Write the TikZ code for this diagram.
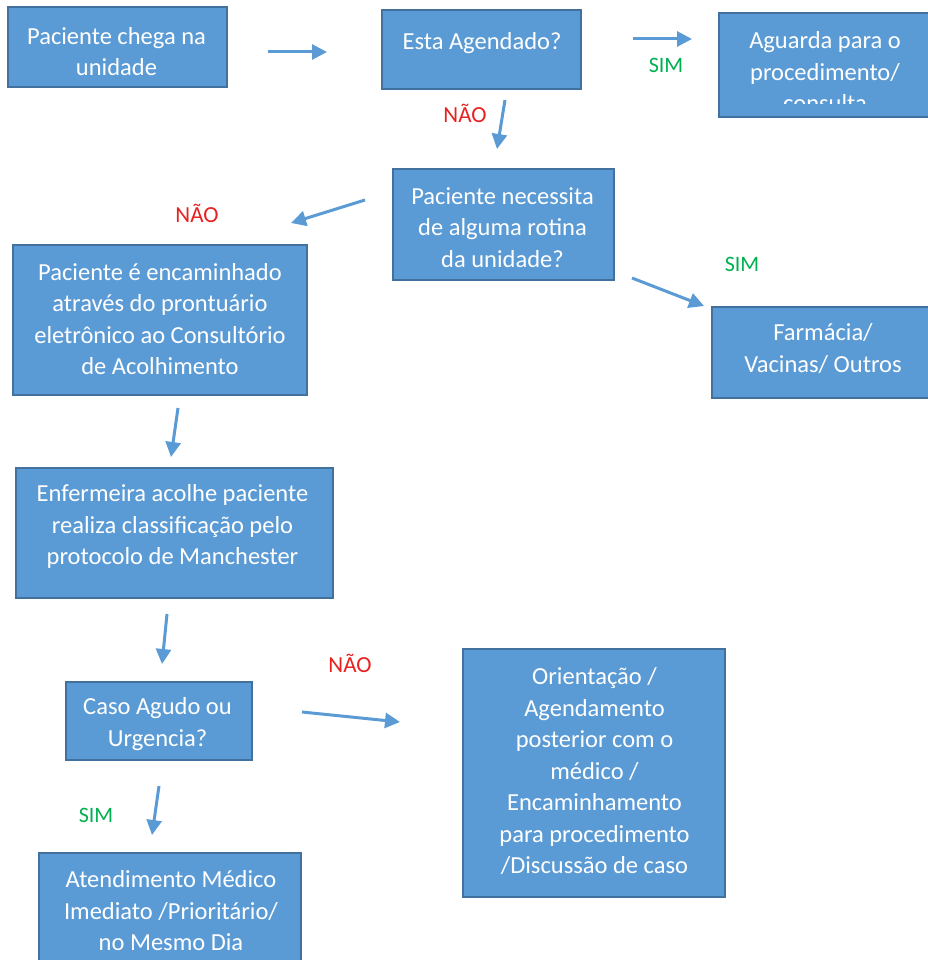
\documentclass[tikz,border=0pt]{standalone}
\usepackage{fontspec}
\setmainfont{Carlito}
\usetikzlibrary{arrows.meta}
\definecolor{boxblue}{RGB}{91,155,213}
\definecolor{boxedge}{RGB}{65,113,156}
\definecolor{naored}{RGB}{232,32,32}
\definecolor{simgreen}{RGB}{0,176,80}
\tikzset{
  etapa/.style={draw=boxedge, line width=1.2pt, fill=boxblue, inner sep=0pt},
  texto/.style={text=white, align=center, inner sep=0pt, font=\fontsize{24.5}{31.5}\selectfont},
  seta/.style={draw=boxblue, line width=3pt, -{Triangle[length=15pt,width=15pt]}},
  nao/.style={text=naored, font=\fontsize{23}{26}\selectfont},
  sim/.style={text=simgreen, font=\fontsize{22}{26}\selectfont},
}
\begin{document}
\begin{tikzpicture}[x=1pt,y=-1pt]
    \useasboundingbox (0,0) rectangle (927,960);
    % Etapas
    \node[etapa, minimum width=219, minimum height=80] (chega) at (117.5,47) {};
    \node[texto] (chegatxt) at (116.5,51.5) {Paciente chega na\\unidade};
    \node[etapa, minimum width=199, minimum height=79] (agendado) at (481.5,49.5) {};
    \node[texto] (agendadotxt) at (482,43) {Esta Agendado?};
    \node[etapa, minimum width=213, minimum height=104] (aguarda) at (825.5,65) {};
    \begin{scope}
      \clip (719,13) rectangle (932,104);
      \node[texto] (aguardatxt) at (825,72) {Aguarda para o\\procedimento/\\consulta};
    \end{scope}
    \node[etapa, minimum width=221, minimum height=111] (rotina) at (503.5,224.5) {};
    \node[texto] (rotinatxt) at (502.5,227.5) {Paciente necessita\\de alguma rotina\\da unidade?};
    \node[etapa, minimum width=222, minimum height=91] (farmacia) at (823,352.5) {};
    \node[texto] (farmaciatxt) at (823,348.5) {Farmácia/\\Vacinas/ Outros};
    \node[etapa, minimum width=294, minimum height=150] (acolhimento) at (160,320) {};
    \node[texto] (acolhimentotxt) at (160,319) {Paciente é encaminhado\\através do prontuário\\eletrônico ao Consultório\\de Acolhimento};
    \node[etapa, minimum width=317, minimum height=130] (enfermeira) at (174.5,533) {};
    \node[texto] (enfermeiratxt) at (172.5,526.5) {Enfermeira acolhe paciente\\realiza classificação pelo\\protocolo de Manchester};
    \node[etapa, minimum width=186, minimum height=78] (agudo) at (159,721) {};
    \node[texto] (agudotxt) at (157.5,724) {Caso Agudo ou\\Urgencia?};
    \node[etapa, minimum width=262, minimum height=248] (orientacao) at (594,773) {};
    \node[texto] (orientacaotxt) at (594.5,771.5) {Orientação /\\Agendamento\\posterior com o\\médico /\\Encaminhamento\\para procedimento\\/Discussão de caso};
    \node[etapa, minimum width=262, minimum height=116] (atendimento) at (170,911) {};
    \node[texto] (atendimentotxt) at (171,911) {Atendimento Médico\\Imediato /Prioritário/\\no Mesmo Dia};

    % Setas
    \coordinate (s1) at (268,52);  \coordinate (e1) at (327,52);
    \coordinate (s2) at (633,39);  \coordinate (e2) at (692,39);
    \coordinate (s3) at (505,100); \coordinate (e3) at (497,149);
    \coordinate (s4) at (365,200); \coordinate (e4) at (291,223);
    \coordinate (s5) at (632,278); \coordinate (e5) at (704,306);
    \coordinate (s6) at (178,408); \coordinate (e6) at (171,457);
    \coordinate (s7) at (167,614); \coordinate (e7) at (162,664);
    \coordinate (s8) at (302,712); \coordinate (e8) at (400,722);
    \coordinate (s9) at (159,786); \coordinate (e9) at (152,835);
    \foreach \i in {1,...,9}
      \draw[seta] (s\i) -- (e\i);

    % Respostas
    \node[sim] (sim1) at (666,65) {SIM};
    \node[nao] (nao1) at (465,113) {NÃO};
    \node[nao] (nao2) at (197,213) {NÃO};
    \node[sim] (sim2) at (742,264) {SIM};
    \node[nao] (nao3) at (350,663) {NÃO};
    \node[sim] (sim3) at (96,815) {SIM};
\end{tikzpicture}
\end{document}
